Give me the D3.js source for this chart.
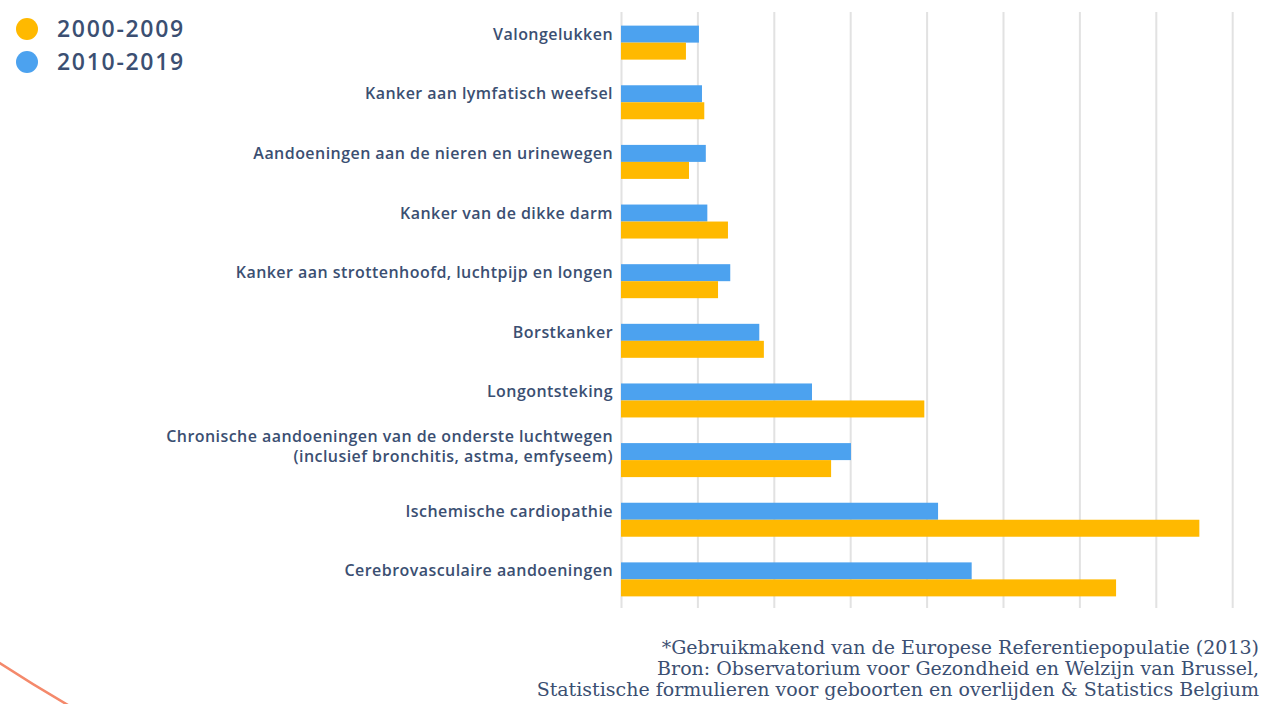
<!DOCTYPE html>
<html>
<head>
<meta charset="utf-8">
<script src="https://cdn.jsdelivr.net/npm/d3@7"></script>
<style>
  body { margin: 0; background: #fff; }
  svg { display: block; }
  .lbl { font-family: "Open Sans", sans-serif; font-weight: 600; font-size: 16px; letter-spacing: 0.45px; fill: #3b4f72; }
  .leg { font-family: "Open Sans", sans-serif; font-weight: 600; font-size: 23px; letter-spacing: 1.7px; fill: #3b4f72; }
  .src { font-family: "DejaVu Serif", serif; font-size: 19px; fill: #3b4f72; }
</style>
</head>
<body>
<div id="chart"></div>
<script>
// categories top to bottom (lines split with |)
var categories = [
  "Valongelukken",
  "Kanker aan lymfatisch weefsel",
  "Aandoeningen aan de nieren en urinewegen",
  "Kanker van de dikke darm",
  "Kanker aan strottenhoofd, luchtpijp en longen",
  "Borstkanker",
  "Longontsteking",
  "Chronische aandoeningen van de onderste luchtwegen|(inclusief bronchitis, astma, emfyseem)",
  "Ischemische cardiopathie",
  "Cerebrovasculaire aandoeningen"
];
var series = ["2010-2019", "2000-2009"];
var values2010 = [10.2, 10.6, 11.1, 11.3, 14.3, 18.1, 25.0, 30.1, 41.5, 45.9];
var values2000 = [8.5, 10.9, 8.9, 14.0, 12.7, 18.7, 39.7, 27.5, 75.7, 64.8];
var gridTicks = [0, 10, 20, 30, 40, 50, 60, 70, 80];
var legendItems = ["2000-2009", "2010-2019"];
var footnote = [
  "*Gebruikmakend van de Europese Referentiepopulatie (2013)",
  "Bron: Observatorium voor Gezondheid en Welzijn van Brussel,",
  "Statistische formulieren voor geboorten en overlijden & Statistics Belgium"
];

var colors = { "2000-2009": "#ffb900", "2010-2019": "#4ca2ef" };

var W = 1261, H = 704;
var svg = d3.select("#chart").append("svg").attr("width", W).attr("height", H);

// decorative arc, only its bottom-left part is on screen
svg.append("circle")
  .attr("cx", 818).attr("cy", -594).attr("r", 1500)
  .attr("fill", "none").attr("stroke", "#f4896b").attr("stroke-width", 2.5);

var x = d3.scaleLinear().domain([0, 80]).range([621, 1232.2]);
var y = d3.scaleBand().domain(categories).range([12.5, 609.5])
  .paddingInner(0.43).paddingOuter(0.22);
var ySub = d3.scaleBand().domain(series).range([0, y.bandwidth()]);

// gridlines
var grid = svg.append("g")
  .attr("transform", "translate(0,608)")
  .call(d3.axisBottom(x).tickValues(gridTicks).tickSize(-596).tickFormat(""));
grid.select(".domain").remove();
grid.selectAll("line").attr("stroke", "#e2e2e2").attr("stroke-width", 2);

var rows = categories.map(function(c, i) {
  return { cat: c, "2010-2019": values2010[i], "2000-2009": values2000[i] };
});

var g = svg.append("g").selectAll("g").data(rows).join("g")
  .attr("transform", function(d) { return "translate(0," + y(d.cat) + ")"; });

g.selectAll("rect")
  .data(function(d) { return series.map(function(s) { return { s: s, v: d[s] }; }); })
  .join("rect")
  .attr("x", x(0))
  .attr("y", function(d) { return ySub(d.s); })
  .attr("width", function(d) { return x(d.v) - x(0); })
  .attr("height", ySub.bandwidth())
  .attr("fill", function(d) { return colors[d.s]; });

// category labels, one text per line, centred on the blue bar
g.each(function(d) {
  var lines = d.cat.split("|");
  var y0 = ySub("2010-2019") + ySub.bandwidth() / 2 + 5.5 - (lines.length - 1) * 15;
  d3.select(this).selectAll("text.lbl").data(lines).join("text")
    .attr("class", "lbl")
    .attr("text-anchor", "end")
    .attr("x", 613)
    .attr("y", function(l, k) { return y0 + k * 20; })
    .text(function(l) { return l; });
});

// legend
var leg = svg.append("g").selectAll("g").data(legendItems).join("g")
  .attr("transform", function(d, i) { return "translate(27," + (29 + i * 33) + ")"; });
leg.append("circle").attr("r", 11).attr("fill", function(d) { return colors[d]; });
leg.append("text").attr("class", "leg").attr("x", 30).attr("dy", "0.35em")
  .text(function(d) { return d; });

// source
svg.append("g").selectAll("text").data(footnote).join("text")
  .attr("class", "src")
  .attr("text-anchor", "end")
  .attr("x", 1259)
  .attr("y", function(d, i) { return 654 + i * 21; })
  .text(function(d) { return d; });
</script>
</body>
</html>
